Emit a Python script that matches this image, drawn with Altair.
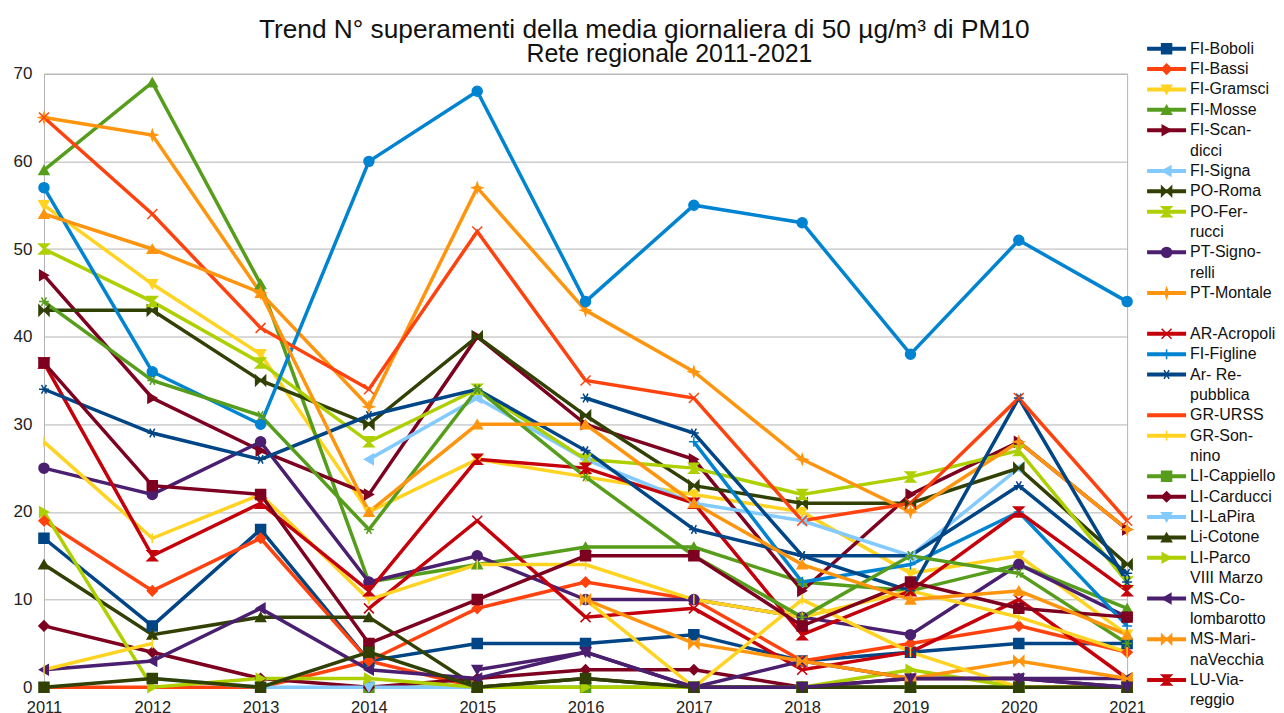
import altair as alt
import pandas as pd

# ---------------- data ----------------
YEARS = [2011, 2012, 2013, 2014, 2015, 2016, 2017, 2018, 2019, 2020, 2021]

FI_BOBOLI = [17, 7, 18, 3, 5, 5, 6, 3, 4, 5, 5]
FI_BASSI = [19, 11, 17, 3, 9, 12, 10, 3, 5, 7, 4]
FI_GRAMSCI = [55, 46, 38, 20, 26, 24, 22, 20, 13, 15, 6]
FI_MOSSE = [59, 69, 46, 12, 14, 16, 16, 12, 11, 14, 9]
FI_SCANDICCI = [47, 33, 27, 22, 40, 30, 26, 11, 22, 28, 18]
FI_SIGNA = [None, None, None, 26, 33, 26, 21, 19, 15, 25, None]
PO_ROMA = [43, 43, 35, 30, 40, 31, 23, 21, 21, 25, 14]
PO_FERRUCCI = [50, 44, 37, 28, 34, 26, 25, 22, 24, 27, 12]
PT_SIGNORELLI = [25, 22, 28, 12, 15, 10, 10, 8, 6, 14, 8]
PT_MONTALE = [65, 63, 45, 32, 57, 43, 36, 26, 20, 28, 18]
AR_ACROPOLI = [None, None, None, 9, 19, 8, 9, 2, 4, 10, 1]
FI_FIGLINE = [None, None, None, None, None, None, 28, 12, 14, 20, 7]
AR_REPUBBLICA = [None, None, None, None, None, 33, 29, 15, 11, 33, 12]
GR_URSS = [0, 0, 0, 3, 0, None, None, None, None, None, None]
GR_SONNINO = [28, 17, 22, 10, 14, 14, 10, 8, 11, 8, 4]
LI_CAPPIELLO = [None, None, None, 0, 0, 0, 0, 0, 0, 0, 0]
LI_CARDUCCI = [7, 4, 1, 0, 1, 2, 2, 0, 1, 1, 0]
LI_LAPIRA = [None, 1, 0, 0, 0, None, None, None, None, None, None]
LI_COTONE = [14, 6, 8, 8, 0, 1, 0, 0, 0, 0, 0]
LI_PARCO = [20, 0, 1, 1, 0, 0, 0, 0, 2, 0, 0]
MS_COLOMBAROTTO = [2, 3, 9, 2, 1, 4, 0, 3, 1, 1, 1]
MS_MARINAVECCHIA = [None, None, None, None, None, 10, 5, 3, 1, 3, 1]
LU_VIAREGGIO = [37, 15, 21, 11, 26, 25, 21, 6, 11, 20, 11]

# series drawn in the chart but not listed in its legend
S24 = [57, 36, 30, 60, 68, 44, 55, 53, 38, 51, 44]
S25 = [34, 29, 26, 31, 34, 27, 18, 15, 15, 23, 13]
S26 = [65, 54, 41, 34, 52, 35, 33, 19, 21, 33, 19]
S27 = [2, 5, None, None, None, 10, 0, 10, 4, 0, 0]
S28 = [44, 35, 31, 18, 34, 24, 15, 8, 15, 13, 5]
S29 = [37, 23, 22, 5, 10, 15, 15, 7, 12, 9, 8]
S31 = [0, 1, 0, 4, 0, 1, 0, 0, 0, 0, 0]
S33 = [None, None, None, None, 2, 4, 0, 0, 1, 1, 0]
S34 = [54, 50, 45, 20, 30, 30, 21, 14, 10, 11, 6]

SERIES = [
    ("FI-Boboli", FI_BOBOLI), ("FI-Bassi", FI_BASSI), ("FI-Gramsci", FI_GRAMSCI),
    ("FI-Mosse", FI_MOSSE), ("FI-Scandicci", FI_SCANDICCI), ("FI-Signa", FI_SIGNA),
    ("PO-Roma", PO_ROMA), ("PO-Ferrucci", PO_FERRUCCI), ("PT-Signorelli", PT_SIGNORELLI),
    ("PT-Montale", PT_MONTALE), ("AR-Acropoli", AR_ACROPOLI), ("FI-Figline", FI_FIGLINE),
    ("Ar- Repubblica", AR_REPUBBLICA), ("GR-URSS", GR_URSS), ("GR-Sonnino", GR_SONNINO),
    ("LI-Cappiello", LI_CAPPIELLO), ("LI-Carducci", LI_CARDUCCI), ("LI-LaPira", LI_LAPIRA),
    ("Li-Cotone", LI_COTONE), ("LI-Parco VIII Marzo", LI_PARCO),
    ("MS-Colombarotto", MS_COLOMBAROTTO), ("MS-MarinaVecchia", MS_MARINAVECCHIA),
    ("LU-Viareggio", LU_VIAREGGIO),
    ("s24", S24), ("s25", S25), ("s26", S26), ("s27", S27), ("s28", S28),
    ("s29", S29), ("s31", S31), ("s33", S33), ("s34", S34),
]

LEGEND = [
    ("FI-Boboli", ["FI-Boboli"]), ("FI-Bassi", ["FI-Bassi"]), ("FI-Gramsci", ["FI-Gramsci"]),
    ("FI-Mosse", ["FI-Mosse"]), ("FI-Scandicci", ["FI-Scan-", "dicci"]),
    ("FI-Signa", ["FI-Signa"]), ("PO-Roma", ["PO-Roma"]), ("PO-Ferrucci", ["PO-Fer-", "rucci"]),
    ("PT-Signorelli", ["PT-Signo-", "relli"]), ("PT-Montale", ["PT-Montale"]),
    (None, [""]),
    ("AR-Acropoli", ["AR-Acropoli"]), ("FI-Figline", ["FI-Figline"]),
    ("Ar- Repubblica", ["Ar- Re-", "pubblica"]), ("GR-URSS", ["GR-URSS"]),
    ("GR-Sonnino", ["GR-Son-", "nino"]), ("LI-Cappiello", ["LI-Cappiello"]),
    ("LI-Carducci", ["LI-Carducci"]), ("LI-LaPira", ["LI-LaPira"]), ("Li-Cotone", ["Li-Cotone"]),
    ("LI-Parco VIII Marzo", ["LI-Parco", "VIII Marzo"]),
    ("MS-Colombarotto", ["MS-Co-", "lombarotto"]), ("MS-MarinaVecchia", ["MS-Mari-", "naVecchia"]),
    ("LU-Viareggio", ["LU-Via-", "reggio"]),
]

TITLE = "Trend N° superamenti della media giornaliera di 50 µg/m³ di PM10"
SUBTITLE = "Rete regionale 2011-2021"

# ---------------- styles ----------------
DBLUE, OREDD, YELLOW, GREEN = "#004586", "#ff420e", "#ffd320", "#579d1c"
MAROON, LBLUE, OLIVE, LIME = "#7e0021", "#83caff", "#314004", "#aecf00"
PURPLE, ORANGE, RED, BLUE = "#4b1f6f", "#ff950e", "#c5000b", "#0084d1"

SQ, DI, TD, TU, TR, TL, CI = ("square", "diamond", "triangle-down", "triangle-up",
                              "triangle-right", "triangle-left", "circle")
BOW = "M-1,-1L1,1L1,-1L-1,1Z"
HOUR = "M-1,-1L1,-1L-1,1L1,1Z"
STAR = "M0,-1L0.25,-0.25L1,0L0.25,0.25L0,1L-0.25,0.25L-1,0L-0.25,-0.25Z"
XS = "M-1,-1L1,1M1,-1L-1,1"
PLUS = "M-1,0L1,0M0,-1L0,1"
AST = "M-1,0L1,0M-0.5,-0.87L0.5,0.87M0.5,-0.87L-0.5,0.87"
HBAR = "M-1,0L1,0"
VBAR = "M0,-1L0,1"

STYLE = {
    "FI-Boboli": (DBLUE, SQ), "FI-Bassi": (OREDD, DI), "FI-Gramsci": (YELLOW, TD),
    "FI-Mosse": (GREEN, TU), "FI-Scandicci": (MAROON, TR), "FI-Signa": (LBLUE, TL),
    "PO-Roma": (OLIVE, BOW), "PO-Ferrucci": (LIME, HOUR), "PT-Signorelli": (PURPLE, CI),
    "PT-Montale": (ORANGE, STAR), "AR-Acropoli": (RED, XS), "FI-Figline": (BLUE, PLUS),
    "Ar- Repubblica": (DBLUE, AST), "GR-URSS": (OREDD, HBAR), "GR-Sonnino": (YELLOW, VBAR),
    "LI-Cappiello": (GREEN, SQ), "LI-Carducci": (MAROON, DI), "LI-LaPira": (LBLUE, TD),
    "Li-Cotone": (OLIVE, TU), "LI-Parco VIII Marzo": (LIME, TR),
    "MS-Colombarotto": (PURPLE, TL), "MS-MarinaVecchia": (ORANGE, BOW),
    "LU-Viareggio": (RED, HOUR),
    "s24": (BLUE, CI), "s25": (DBLUE, AST), "s26": (OREDD, XS), "s27": (YELLOW, VBAR),
    "s28": (GREEN, AST), "s29": (MAROON, SQ), "s31": (OLIVE, SQ), "s33": (PURPLE, TD),
    "s34": (ORANGE, TU),
}

NAMES = [n for n, _ in SERIES]
COLOR_SCALE = alt.Scale(domain=NAMES, range=[STYLE[n][0] for n in NAMES])
SHAPE_SCALE = alt.Scale(domain=NAMES, range=[STYLE[n][1] for n in NAMES])
FONT = "Liberation Sans"

# ---------------- tables ----------------
rows = []
for name, vals in SERIES:
    seg = 0
    for i, (yr, v) in enumerate(zip(YEARS, vals)):
        if v is None:
            if i > 0 and vals[i - 1] is not None:
                seg += 1
            continue
        rows.append({"series": name, "seg": f"{name}|{seg}", "year": yr, "value": v})
df = pd.DataFrame(rows)

entry_rows, text_rows = [], []
r = 0
for key, lines in LEGEND:
    if key is not None:
        entry_rows.append({"series": key, "r": r})
    for ln in lines:
        if ln:
            text_rows.append({"text": ln, "r": r})
        r += 1
leg_entries = pd.DataFrame(entry_rows)
leg_text = pd.DataFrame(text_rows)

# ---------------- main chart ----------------
X = alt.X("year:Q", scale=alt.Scale(domain=[2011, 2021], nice=False, zero=False),
          axis=alt.Axis(values=YEARS, format="d", title=None, grid=False, ticks=False,
                        domain=False, labelFlush=False, labelOverlap=False,
                        labelFontSize=16.5, labelPadding=12, labelColor="#222", labelFont=FONT))
Y = alt.Y("value:Q", scale=alt.Scale(domain=[0, 70], nice=False),
          axis=alt.Axis(values=list(range(0, 71, 10)), title=None, ticks=False, domain=False,
                        grid=True, gridColor="#b3b3b3", gridWidth=1,
                        labelFontSize=17, labelPadding=12, labelColor="#222", labelFont=FONT))

base = alt.Chart(df)
lines = base.mark_line(strokeWidth=3.5).encode(
    x=X, y=Y,
    color=alt.Color("series:N", scale=COLOR_SCALE, legend=None),
    detail="seg:N",
    order="year:Q",
)
points = base.mark_point(filled=True, size=100, opacity=1, strokeWidth=1.5).encode(
    x="year:Q", y="value:Q",
    fill=alt.Fill("series:N", scale=COLOR_SCALE, legend=None),
    stroke=alt.Stroke("series:N", scale=COLOR_SCALE, legend=None),
    shape=alt.Shape("series:N", scale=SHAPE_SCALE, legend=None),
)
main = alt.layer(lines, points).properties(
    width=1084, height=614,
    view=alt.ViewBackground(stroke="#b3b3b3", strokeWidth=1),
    title=alt.TitleParams(text=SUBTITLE, anchor="middle", font=FONT, fontSize=24.9,
                          fontWeight="normal", color="#111", dx=84, offset=-2),
)

# ---------------- legend panel ----------------
LEG_Y = alt.Scale(domain=[1.227, 31.356], reverse=True, nice=False, zero=False)
leg_rule = alt.Chart(leg_entries).mark_rule(strokeWidth=4).encode(
    x=alt.value(0), x2=alt.value(39),
    y=alt.Y("r:Q", scale=LEG_Y, axis=None),
    color=alt.Color("series:N", scale=COLOR_SCALE, legend=None),
)
leg_pts = alt.Chart(leg_entries).mark_point(filled=True, size=100, opacity=1, strokeWidth=1.5).encode(
    x=alt.value(19.5),
    y=alt.Y("r:Q", scale=LEG_Y, axis=None),
    fill=alt.Fill("series:N", scale=COLOR_SCALE, legend=None),
    stroke=alt.Stroke("series:N", scale=COLOR_SCALE, legend=None),
    shape=alt.Shape("series:N", scale=SHAPE_SCALE, legend=None),
)
leg_txt = alt.Chart(leg_text).mark_text(align="left", baseline="middle", fontSize=16,
                                         color="#111", font=FONT).encode(
    x=alt.value(43),
    y=alt.Y("r:Q", scale=LEG_Y, axis=None),
    text="text:N",
)
legend = alt.layer(leg_rule, leg_pts, leg_txt).properties(
    width=120, height=614, view=alt.ViewBackground(stroke="transparent")
)

chart = alt.hconcat(main, legend, spacing=20, bounds="flush").properties(
    title=alt.TitleParams(text=TITLE, anchor="middle", font=FONT, fontSize=26.3,
                          fontWeight="normal", color="#111", offset=-3.5),
    padding={"left": 4, "top": 8.5, "right": 0, "bottom": 0},
).configure_view(stroke="transparent")

chart.save("out.html", embed_options={"renderer": "svg", "actions": False})
